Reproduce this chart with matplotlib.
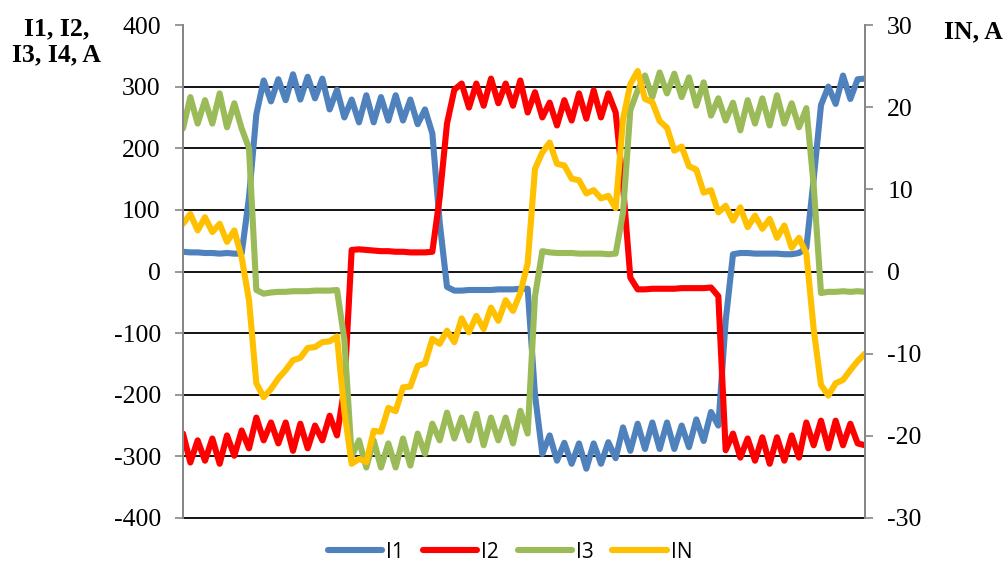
import numpy as np
import matplotlib.pyplot as plt

# Phase currents (left axis, A) and neutral current (right axis, A)
i1 = [32, 31, 31, 30, 30, 29, 30, 29, 29,
      120, 255, 310,
      276, 312, 278, 320, 279, 316, 281, 313, 263, 295, 250, 279, 242, 286,
      242, 283, 245, 286, 245, 279, 239, 263, 224, 80, -25,
      -31, -31, -30, -30, -30, -30, -29, -29, -29, -28, -28,
      -200, -296,
      -266, -307, -278, -312, -279, -320, -279, -312, -277, -303, -253, -291,
      -247, -288, -245, -288, -245, -288, -250, -285, -240, -275, -228, -250,
      -80, 28,
      30, 30, 29, 29, 29, 29, 28, 28, 30,
      38, 150, 270, 300, 272, 318, 280, 312, 313]

i2 = [-263, -310, -274, -307, -271, -312, -266, -299, -258, -287, -237, -274,
      -245, -279, -245, -291, -247, -287, -250, -274, -234, -266,
      -190, 35,
      36, 35, 34, 33, 33, 32, 32, 31, 31, 31, 32,
      120, 240,
      295, 305, 266, 305, 269, 313, 273, 305, 269, 310, 258, 291, 250, 274,
      237, 278, 245, 289, 248, 294, 250, 289, 258,
      140, -10,
      -29, -29, -28, -28, -28, -28, -27, -27, -27, -27, -26,
      -40, -290,
      -263, -302, -271, -307, -269, -312, -269, -307, -266, -302, -245, -282,
      -242, -287, -242, -282, -247, -279, -282]

i3 = [232, 283, 240, 278, 240, 289, 234, 273, 232, 200,
      -30,
      -36, -34, -33, -33, -32, -32, -32, -31, -31, -31, -30,
      -110, -300,
      -274, -318, -274, -318, -279, -318, -271, -315, -263, -296, -247, -274,
      -229, -271, -237, -274, -231, -282, -237, -274, -237, -279, -226, -263,
      -40, 33,
      31, 30, 30, 30, 29, 29, 29, 29, 28, 29,
      95, 262,
      294, 318, 283, 323, 289, 321, 283, 315, 269, 307, 253, 281, 245, 274,
      229, 278, 240, 281, 237, 286, 240, 273, 234, 265,
      140, -35,
      -33, -33, -32, -33, -32, -33]

i_n = [5.8, 7.0, 5.0, 6.6, 4.8, 5.8, 3.6, 5.0, 1.7, -3.5,
       -13.6, -15.3, -14.3, -13.0, -12.0, -10.8, -10.5, -9.3, -9.2, -8.6,
       -8.5, -7.9, -17.0,
       -23.4, -22.8, -23.2, -19.4, -19.5, -16.6, -17.0, -14.1, -14.0, -11.5,
       -11.2, -8.2, -8.8, -7.2, -8.6, -5.7, -7.4, -5.4, -7.0, -4.4, -6.0,
       -3.5, -4.8, -2.6, 1.0,
       12.5, 14.5, 15.7, 13.1, 12.9, 11.3, 11.1, 9.5, 9.9, 8.9, 9.2, 7.7,
       18.5, 22.8, 24.4, 21.0, 20.6, 18.3, 17.5, 14.7, 15.2, 12.8, 12.4,
       9.6, 9.9, 7.2, 8.0, 6.2, 7.8, 5.4, 6.8, 5.2, 6.4, 4.1, 5.6, 2.9, 4.1, 2.2,
       -7.0, -13.8, -15.1, -13.6, -13.2, -12.0, -10.9, -10.0]

left_ticks = [-400, -300, -200, -100, 0, 100, 200, 300, 400]
right_ticks = [-30, -20, -10, 0, 10, 20, 30]

serif = 'Liberation Serif'
colors = {'I1': '#4F81BD', 'I2': '#FF0000', 'I3': '#9BBB59', 'IN': '#FFC000'}
axis_gray = '#868686'

x = np.arange(len(i1))

fig = plt.figure(figsize=(10.06, 5.63), dpi=100)
ax = fig.add_axes([183 / 1006, 1 - 518 / 563, 682 / 1006, 493 / 563])
ax2 = ax.twinx()

lw = 4.4
style = dict(lw=lw, solid_joinstyle='round', solid_capstyle='round')
l1, = ax.plot(x, i1, color=colors['I1'], label='I1', **style)
l2, = ax.plot(x, i2, color=colors['I2'], label='I2', **style)
l3, = ax.plot(x, i3, color=colors['I3'], label='I3', **style)
l4, = ax2.plot(x, i_n, color=colors['IN'], label='IN', **style)

ax.set_xlim(0, len(x) - 1)
ax.set_ylim(-400, 400)
ax2.set_ylim(-30, 30)
ax.set_xticks([])
ax.set_yticks(left_ticks)
ax2.set_yticks(right_ticks)
ax.set_yticklabels([str(v) for v in left_ticks], fontfamily=serif, fontsize=18.5)
ax2.set_yticklabels([str(v) for v in right_ticks], fontfamily=serif, fontsize=18.5)

for v in left_ticks[:-1]:
    ax.axhline(v, color='black', lw=1.3, zorder=0.5, clip_on=False)

for a in (ax, ax2):
    a.spines['top'].set_visible(False)
    a.spines['bottom'].set_visible(False)
    a.spines['left'].set_color(axis_gray)
    a.spines['right'].set_color(axis_gray)
    a.spines['left'].set_linewidth(1.3)
    a.spines['right'].set_linewidth(1.3)
    a.tick_params(axis='y', length=6, width=1.2, color=axis_gray, pad=10)

fig.text(57 / 1006, 1 - 42 / 563, 'I1, I2,\nI3, I4, A', ha='center', va='center',
         fontfamily=serif, fontsize=18.5, fontweight='bold', linespacing=1.15)
fig.text(973 / 1006, 1 - 32 / 563, 'IN, A', ha='center', va='center',
         fontfamily=serif, fontsize=18.5, fontweight='bold')

fig.legend(handles=[l1, l2, l3, l4], loc='center', bbox_to_anchor=(510 / 1006, 1 - 552 / 563),
           ncol=4, frameon=False, prop={'family': 'Open Sans', 'size': 15},
           handlelength=2.6, handletextpad=0.2, columnspacing=0.9)

fig.savefig('out.png', dpi=100)
